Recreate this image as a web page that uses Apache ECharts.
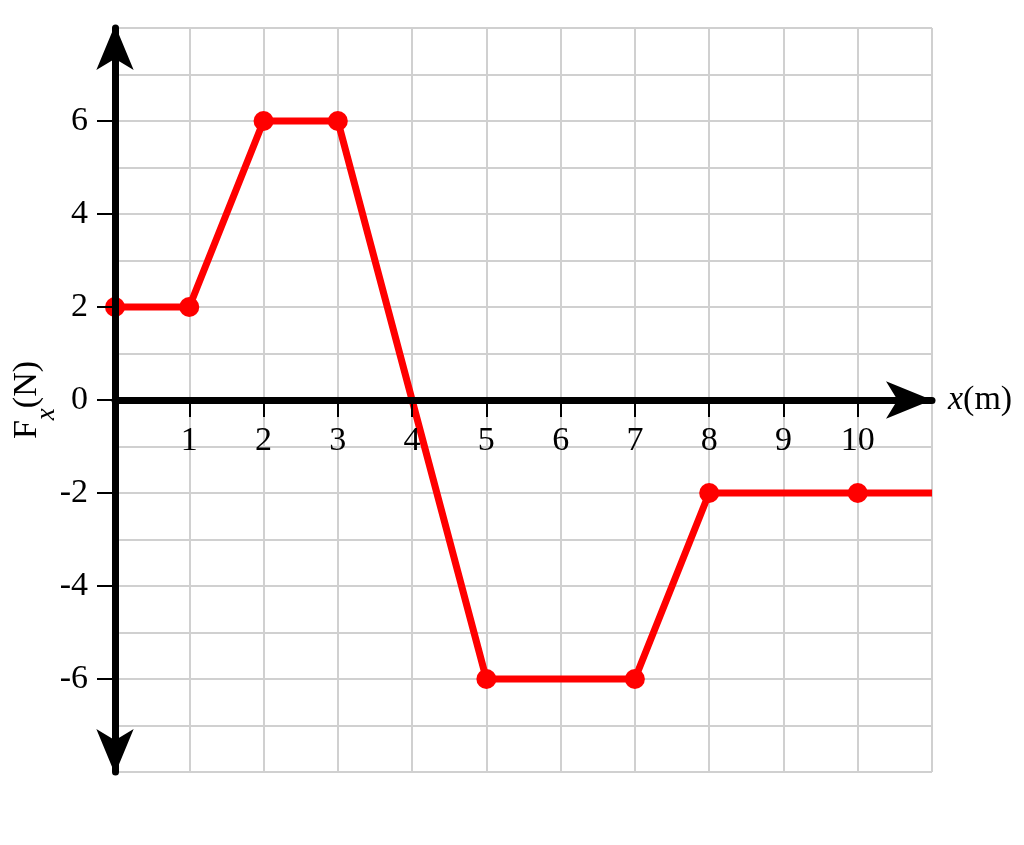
<!DOCTYPE html>
<html>
<head>
<meta charset="utf-8">
<script src="https://cdn.jsdelivr.net/npm/echarts@6/dist/echarts.min.js"></script>
<style>
  html, body { margin: 0; padding: 0; background: #fff; }
  #chart { width: 1024px; height: 845px; }
</style>
</head>
<body>
<div id="chart"></div>
<script>
// data
var positions = [0, 1, 2, 3, 4, 5, 7, 8, 10, 11];
var forces = [2, 2, 6, 6, 0, -6, -6, -2, -2, -2];
// points that carry a dot
var dotted = [0, 1, 2, 3, 5, 7, 8, 10];
var xTickLabels = [1, 2, 3, 4, 5, 6, 7, 8, 9, 10];
var yTickLabels = [-6, -4, -2, 0, 2, 4, 6];

var font = 'Liberation Serif';
var gridColor = '#d0d0d0';

var myChart = echarts.init(document.getElementById('chart'));

var lineData = positions.map(function (x, i) {
    return [x, forces[i]];
});

var option = {
    animation: false,
    backgroundColor: '#fff',
    grid: {
        left: 115,
        right: 92,
        top: 28,
        bottom: 73,
        outerBoundsMode: 'none'
    },
    xAxis: [
        {
            // visible axis, moved up from the bottom edge to y = 0
            type: 'value',
            min: 0,
            max: 11,
            interval: 1,
            position: 'bottom',
            offset: -372,
            z: 10,
            name: '{i|x}(m)',
            nameLocation: 'end',
            nameGap: 16,
            nameMoveOverlap: false,
            nameTextStyle: {
                fontFamily: font,
                fontSize: 34,
                color: '#000',
                verticalAlign: 'middle',
                rich: {
                    i: { fontFamily: font, fontSize: 34, fontStyle: 'italic', color: '#000' }
                }
            },
            axisLine: {
                show: true,
                onZero: false,
                symbol: ['none', 'arrow'],
                symbolSize: [28, 46],
                symbolOffset: [0, 0],
                lineStyle: { color: '#000', width: 7 }
            },
            axisTick: {
                show: true,
                customValues: xTickLabels,
                length: 17,
                lineStyle: { color: '#000', width: 2 }
            },
            axisLabel: {
                show: true,
                customValues: xTickLabels,
                margin: 24,
                fontFamily: font,
                fontSize: 34,
                color: '#000'
            },
            splitLine: { show: false }
        },
        {
            // grid lines only
            type: 'value',
            min: 0,
            max: 11,
            interval: 1,
            position: 'bottom',
            axisLine: { show: false },
            axisTick: { show: false },
            axisLabel: { show: false },
            splitLine: { show: true, lineStyle: { color: gridColor, width: 2 } }
        }
    ],
    yAxis: [
        {
            type: 'value',
            min: -8,
            max: 8,
            interval: 1,
            position: 'left',
            z: 10,
            name: 'F{sub|x}(N)',
            nameLocation: 'middle',
            nameRotate: 90,
            nameGap: 55,
            nameMoveOverlap: false,
            nameTextStyle: {
                fontFamily: font,
                fontSize: 34,
                color: '#000',
                lineHeight: 66,
                rich: {
                    sub: {
                        fontFamily: font,
                        fontSize: 27,
                        fontStyle: 'italic',
                        color: '#000',
                        lineHeight: 26,
                        verticalAlign: 'bottom'
                    }
                }
            },
            axisLine: {
                show: true,
                onZero: false,
                symbol: ['arrow', 'arrow'],
                symbolSize: [28, 45],
                symbolOffset: [-2, 3],
                lineStyle: { color: '#000', width: 7 }
            },
            axisTick: {
                show: true,
                customValues: yTickLabels,
                length: 18,
                lineStyle: { color: '#000', width: 2 }
            },
            axisLabel: {
                show: true,
                customValues: yTickLabels,
                margin: 27,
                fontFamily: font,
                fontSize: 34,
                color: '#000'
            },
            splitLine: { show: false }
        },
        {
            type: 'value',
            min: -8,
            max: 8,
            interval: 1,
            position: 'left',
            axisLine: { show: false },
            axisTick: { show: false },
            axisLabel: { show: false },
            splitLine: { show: true, lineStyle: { color: gridColor, width: 2 } }
        }
    ],
    series: [
        {
            type: 'line',
            data: lineData,
            clip: false,
            color: '#ff0000',
            lineStyle: { color: '#ff0000', width: 7 },
            itemStyle: { color: '#ff0000' },
            showSymbol: true,
            symbolSize: 20,
            symbol: function (value) {
                return dotted.indexOf(value[0]) >= 0 ? 'circle' : 'none';
            }
        }
    ]
};

myChart.setOption(option);
window.addEventListener('resize', function () {
    myChart.resize();
});
</script>
</body>
</html>
